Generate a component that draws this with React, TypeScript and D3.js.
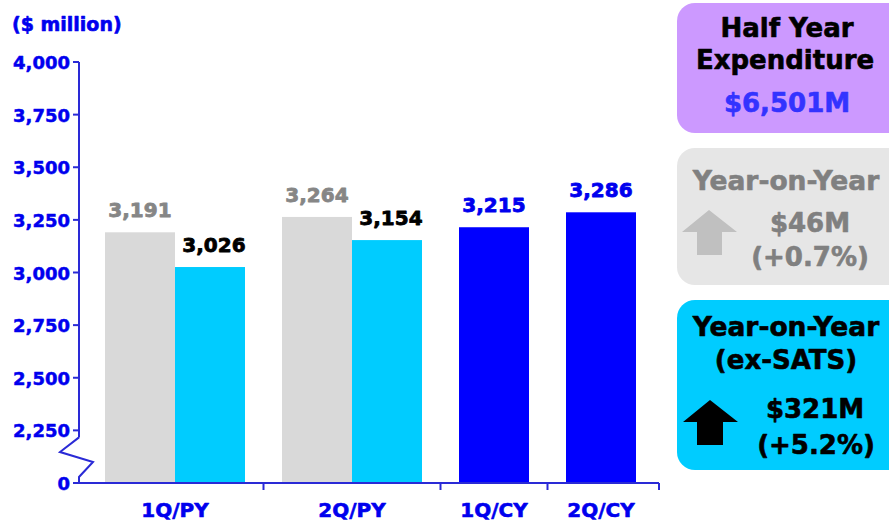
import React from "react";
import * as d3 from "d3";

const categories = ["1Q/PY", "2Q/PY", "1Q/CY", "2Q/CY"];
const priorYear: (number | null)[] = [3191, 3264, null, null];
const priorYearExSats: (number | null)[] = [3026, 3154, null, null];
const currentYear: (number | null)[] = [null, null, 3215, 3286];
const yTicks = [2250, 2500, 2750, 3000, 3250, 3500, 3750, 4000];
const breakBase = 2000;
const unitLabel = "($ million)";
const panel1 = ["Half Year", "Expenditure", "$6,501M"];
const panel2 = ["Year-on-Year", "$46M", "(+0.7%)"];
const panel3 = ["Year-on-Year", "(ex-SATS)", "$321M", "(+5.2%)"];

const FONT = "'DejaVu Sans', Verdana, sans-serif";
const AXIS = "#2a2ad6";
const TXT = "#0000ee";
const series = [
  { key: "py", values: priorYear, fill: "#d9d9d9", label: "#868686" },
  { key: "pyx", values: priorYearExSats, fill: "#00ccff", label: "#000000" },
  { key: "cy", values: currentYear, fill: "#0000ff", label: "#0000ee" },
];

function T(props: any) {
  const { fill, sw = 0.6, children, ...rest } = props;
  return (
    <text fill={fill} stroke={fill} strokeWidth={sw} strokeLinejoin="round" {...rest}>
      {children}
    </text>
  );
}

export default function App() {
  const W = 889, H = 523;
  const axisX = 79, axisEnd = 659;
  const y = d3.scaleLinear().domain([breakBase, 4000]).range([483, 62]);
  const barW = 70, gap = 37;
  const groups = categories.map((c, i) => ({
    cat: c,
    bars: series.filter((s) => s.values[i] != null).map((s) => ({ s, v: s.values[i] as number })),
  }));
  const totalUnits = groups.reduce((a, g) => a + g.bars.length * barW, 0) + gap * (groups.length - 1);
  const xu = d3.scaleLinear().domain([0, totalUnits]).range([105, 105 + totalUnits]);
  let cursor = 0;
  const layout = groups.map((g) => {
    const start = cursor;
    const bars = g.bars.map((b, bi) => ({ ...b, x0: xu(start + bi * barW), x1: xu(start + (bi + 1) * barW) }));
    cursor = start + g.bars.length * barW + gap;
    return { cat: g.cat, bars, x0: xu(start), x1: xu(start + g.bars.length * barW) };
  });
  const boundaries = layout.slice(0, -1).map((g, i) => (g.x1 + layout[i + 1].x0) / 2);
  boundaries.push(axisEnd);
  const y0 = y(breakBase);

  const arrow = (tipX: number, tipY: number, headY: number, left: number, right: number, sL: number, sR: number, bottom: number) =>
    `M${tipX},${tipY} L${right},${headY} L${sR},${headY} L${sR},${bottom} L${sL},${bottom} L${sL},${headY} L${left},${headY} Z`;

  const fmt = d3.format(",");

  return (
    <svg width={W} height={H} style={{ position: "absolute", left: 0, top: 0 }} fontFamily={FONT} fontWeight="bold">
      <rect width={W} height={H} fill="#ffffff" />
      <T x={12} y={31} fontSize={19} fill={TXT}>{unitLabel}</T>
      {layout.map((g) =>
        g.bars.map((b) => (
          <g key={g.cat + b.s.key}>
            <rect x={b.x0} y={y(b.v)} width={b.x1 - b.x0} height={y0 - y(b.v)} fill={b.s.fill} />
            <T x={(b.x0 + b.x1) / 2 + (b.s.key === "pyx" ? 4 : 0)} y={y(b.v) - 15} textAnchor="middle" fontSize={20} fill={b.s.label} sw={0.8}>
              {fmt(b.v)}
            </T>
          </g>
        ))
      )}
      <line x1={axisX} x2={axisX} y1={y(4000)} y2={y(2250) + 7} stroke={AXIS} strokeWidth={2} />
      <polyline points={`${axisX},${y(2250) + 7} 60,452 93,462 ${axisX},477 ${axisX},${y0}`} fill="none" stroke={AXIS} strokeWidth={2} />
      {yTicks.map((t) => (
        <g key={t}>
          <line x1={axisX - 6} x2={axisX} y1={y(t)} y2={y(t)} stroke={AXIS} strokeWidth={2} />
          <T x={70} y={y(t) + 7} textAnchor="end" fontSize={18} fill={TXT} sw={0.5}>{fmt(t)}</T>
        </g>
      ))}
      <line x1={axisX - 6} x2={axisX} y1={y0} y2={y0} stroke={AXIS} strokeWidth={2} />
      <T x={70} y={y0 + 7} textAnchor="end" fontSize={18} fill={TXT} sw={0.5}>0</T>
      <line x1={axisX} x2={axisEnd} y1={y0} y2={y0} stroke={AXIS} strokeWidth={2} />
      {boundaries.map((b, i) => (
        <line key={i} x1={b} x2={b} y1={y0} y2={y0 + 7} stroke={AXIS} strokeWidth={2} />
      ))}
      {layout.map((g) => (
        <T key={g.cat} x={(g.x0 + g.x1) / 2} y={517} textAnchor="middle" fontSize={20} fill={TXT}>{g.cat}</T>
      ))}
      {/* panel 1 */}
      <rect x={677} y={3} width={240} height={130} rx={18} fill="#cc99ff" />
      <T x={787} y={37} textAnchor="middle" fontSize={26} fill="#000">{panel1[0]}</T>
      <T x={785} y={69} textAnchor="middle" fontSize={26} fill="#000">{panel1[1]}</T>
      <T x={787} y={112} textAnchor="middle" fontSize={26} fill="#3333ff">{panel1[2]}</T>
      {/* panel 2 */}
      <rect x={677} y={148} width={240} height={137} rx={18} fill="#e6e6e6" />
      <T x={786} y={190} textAnchor="middle" fontSize={26.5} fill="#808080">{panel2[0]}</T>
      <T x={810} y={232} textAnchor="middle" fontSize={26} fill="#808080">{panel2[1]}</T>
      <T x={810} y={266} textAnchor="middle" fontSize={26} fill="#808080">{panel2[2]}</T>
      <path d={arrow(709, 210, 232, 682, 737, 697, 722, 255)} fill="#c0c0c0" />
      {/* panel 3 */}
      <rect x={677} y={300} width={240} height={170} rx={18} fill="#00ccff" />
      <T x={786} y={336} textAnchor="middle" fontSize={26.5} fill="#000">{panel3[0]}</T>
      <T x={786} y={369} textAnchor="middle" fontSize={26} fill="#000">{panel3[1]}</T>
      <T x={815} y={418} textAnchor="middle" fontSize={26} fill="#000">{panel3[2]}</T>
      <T x={816} y={454} textAnchor="middle" fontSize={26} fill="#000">{panel3[3]}</T>
      <path d={arrow(710, 400, 422, 683, 738, 697, 723, 445)} fill="#000" />
    </svg>
  );
}
